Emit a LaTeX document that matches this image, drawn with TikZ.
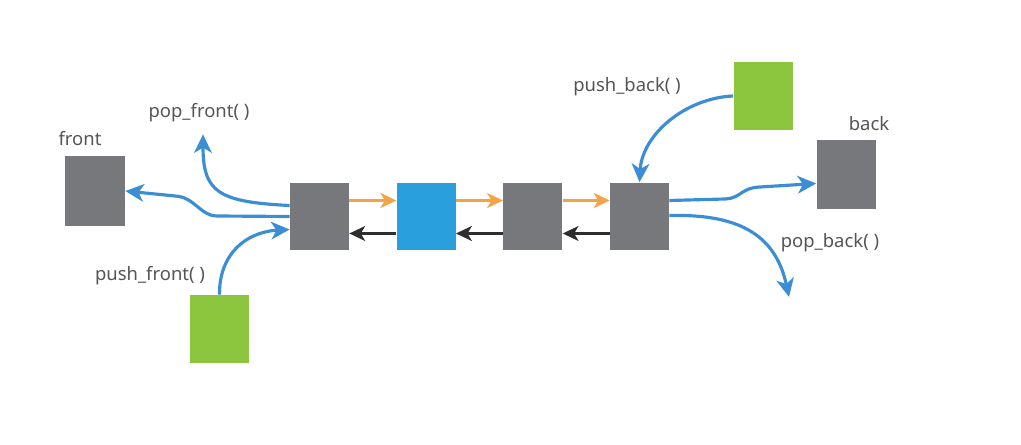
\documentclass[tikz,border=0pt]{standalone}
\usepackage{fontspec}
\setmainfont{Noto Sans}
\usepackage{tikz}
\usetikzlibrary{positioning,calc,arrows.meta}
\definecolor{boxgray}{HTML}{77787C}
\definecolor{boxblue}{HTML}{2A9FDD}
\definecolor{boxgreen}{HTML}{8CC63F}
\definecolor{lineblue}{HTML}{3B8ED4}
\definecolor{lineorange}{HTML}{F5A445}
\definecolor{linedark}{HTML}{2E2E2E}
\definecolor{textgray}{HTML}{555555}
\tikzstyle{elem} = [rectangle, inner sep=0pt, minimum width=1.18cm, minimum height=1.36cm, fill=boxgray]
\tikzstyle{newelem} = [elem, fill=boxgreen]
\tikzstyle{label} = [text=textgray, font=\fontsize{10.5}{12}\selectfont, inner sep=1pt]
\tikzstyle{flow} = [->,>={Stealth[length=10.5pt,width=10pt,inset=3pt]},line width=1.8pt,draw=lineblue]
\tikzstyle{next} = [->,>={Stealth[length=9pt,width=8.5pt,inset=2.5pt]},line width=1.7pt,draw=lineorange]
\tikzstyle{prev} = [->,>={Stealth[length=9pt,width=8.5pt,inset=2.5pt]},line width=1.3pt,draw=linedark]
\begin{document}
\begin{tikzpicture}[x=0.02cm, y=-0.02cm, node distance=0.94cm]
	\useasboundingbox (0,0) rectangle (1021,445);
	% list
	\node (n1) [elem] at (319.5,216.5) {};
	\node (n2) [elem, fill=boxblue, right=of n1] {};
	\node (n3) [elem, right=of n2] {};
	\node (n4) [elem, right=of n3] {};
	\foreach \a/\b in {n1/n2,n2/n3,n3/n4} {
		\draw [next] ($(\a.east)+(0,-16)$) -- ($(\b.west)+(0,-16)$);
		\draw [prev] ($(\b.west)+(0,17)$) -- ($(\a.east)+(0,17)$);
	}
	% ends
	\node (front) [elem, minimum width=1.2cm, minimum height=1.4cm] at (95,191) {};
	\node (back) [elem, minimum height=1.38cm] at (846,174.5) {};
	\node (pf) [newelem] at (219.5,329) {};
	\node (pb) [newelem] at (763,96) {};
	\node (lfront) [label] at (80,139) {front};
	\node (lback) [label] at (869,124) {back};
	\node (lpopf) [label] at (199,113) {pop\_front( )};
	\node (lpushf) [label] at (150,276) {push\_front( )};
	\node (lpushb) [label] at (627,87) {push\_back( )};
	\node (lpopb) [label] at (830,243) {pop\_back( )};
	\coordinate (popbend) at (789,297);
	% operations
	\draw [flow] (n1.west) -- (217,216) .. controls (200,216) and (195,197) .. (175,196) -- (front.east);
	\draw [flow] ($(n1.west)+(0,-11)$) .. controls (218,202) and (203,192) .. ($(lpopf.south)+(4,10)$);
	\draw [flow] (pf.north) .. controls (219,255) and (245,232) .. ($(n1.west)+(0,13)$);
	\draw [flow] (pb.west) .. controls (685,98) and (642,135) .. (n4.north);
	\draw [flow] ($(n4.east)+(0,-16)$) -- (725,199) .. controls (742,198) and (740,188) .. (760,187) -- ($(back.west)+(0,9)$);
	\draw [flow] ($(n4.east)+(0,-1)$) .. controls (735,214) and (775,232) .. (popbend);
\end{tikzpicture}
\end{document}
